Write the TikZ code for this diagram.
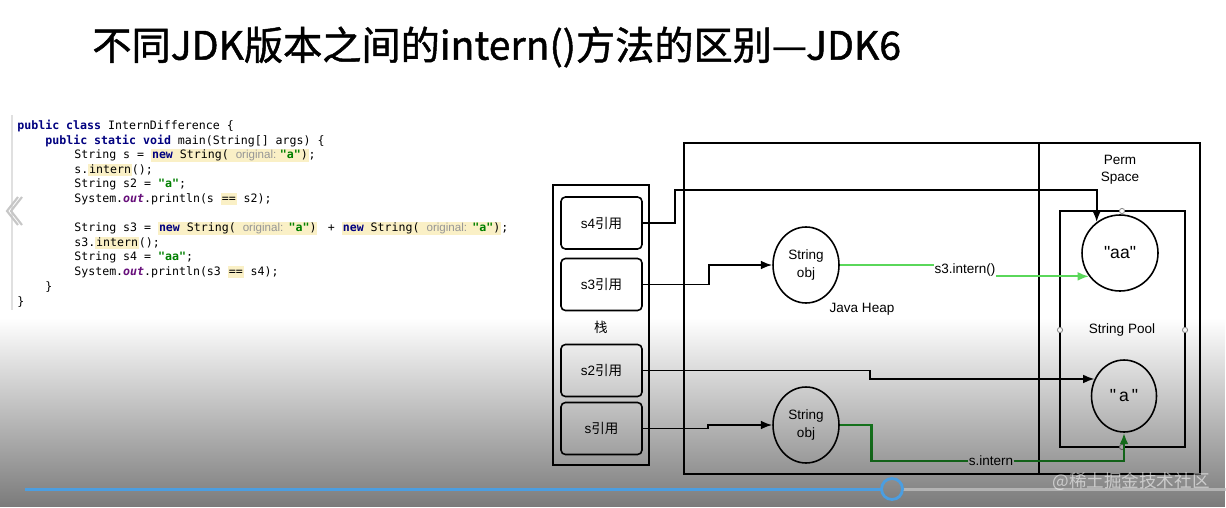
\documentclass[tikz,border=0pt]{standalone}
\usepackage{fontspec}
\setmainfont{Liberation Sans}
\newfontfamily\cjk{Noto Sans CJK SC}
\newfontfamily\cjkb{Noto Sans CJK SC}[FakeBold=1.2]
\newfontfamily\codefont{DejaVu Sans Mono}
\usetikzlibrary{arrows.meta,fadings,shapes.geometric,calc}
\definecolor{kwblue}{RGB}{0,0,128}
\definecolor{strgreen}{RGB}{0,128,0}
\definecolor{hlyel}{RGB}{250,240,198}
\definecolor{hintgray}{RGB}{150,150,150}
\definecolor{outpurple}{RGB}{102,14,122}
\definecolor{lgreen}{RGB}{90,215,90}
\definecolor{dgreen}{RGB}{30,160,40}
\definecolor{barblue}{RGB}{75,158,225}
\newcommand\kwd[1]{{\bfseries\color{kwblue}#1}}
\newcommand\strg[1]{{\bfseries\color{strgreen}#1}}
\newcommand\hnt[1]{{\rmfamily\fontsize{6.6}{8}\selectfont\color{hintgray}#1}}
\newcommand\outv[1]{{\bfseries\itshape\color{outpurple}#1}}
\newcommand\hly[1]{{\setlength{\fboxsep}{0.5pt}\colorbox{hlyel}{\vphantom{(}#1}}}
\newcommand\qq{\textquotedbl}
\tikzfading[name=fadeov, top color=transparent!100, bottom color=transparent!48]
\begin{document}
\begin{tikzpicture}[x=0.02cm,y=-0.02cm,
  code/.style={anchor=base west, inner sep=0, font=\codefont\fontsize{6.6}{8}\selectfont},
  lbl/.style={inner sep=0, font=\fontsize{7.7}{10}\selectfont, align=center},
  refbox/.style={draw, line width=0.9pt, rounded corners=2.5pt, minimum width=1.62cm, minimum height=1.04cm, inner sep=0, font=\fontsize{7.7}{10}\selectfont},
  objnode/.style={draw, line width=0.9pt, ellipse, minimum width=1.32cm, minimum height=1.52cm, inner sep=0, align=center, font=\fontsize{7.7}{10.2}\selectfont},
  frame/.style={draw, line width=0.9pt},
  conn/.style={line width=1pt, -{Latex[length=6.5pt,width=5pt]}},
  lgline/.style={line width=1.1pt, draw=lgreen},
  dgline/.style={line width=1.6pt, draw=dgreen},
]
\useasboundingbox (0,0) rectangle (1226,507);
\fill[white] (0,0) rectangle (1226,507);

% title
\node[anchor=west, inner sep=0, font=\cjkb\fontsize{22.3}{23}\selectfont] (title) at (92,47) {不同JDK版本之间的intern()方法的区别—JDK6};

% editor gutter and chevron
\draw[black!12, line width=0.8pt] (12,115) -- (12,310);
\draw[black!22, line width=1.2pt] (18,197) -- (7,211) -- (18,225);
\draw[black!22, line width=1.2pt] (22,197) -- (11,211) -- (22,225);

% code
\node[code] (c1) at (17,129.5) {\kwd{public class} InternDifference \{};
\node[code] (c2) at (45,144.5) {\kwd{public static void} main(String[] args) \{};
\node[code] (c3) at (74,158.5) {String s = \hly{\kwd{new} String( \hnt{original:}\hspace{2pt}\strg{"a"})};};
\node[code] (c4) at (74,173.5) {s.\hly{intern}();};
\node[code] (c5) at (74,187.5) {String s2 = \strg{"a"};};
\node[code] (c6) at (74,202.5) {System.\outv{out}.println(s \hly{==} s2);};
\node[code] (c7) at (74,231.5) {String s3 = \hly{\kwd{new} String( \hnt{original:}\hspace{3pt}\strg{"a"})}\hspace{2pt} + \hly{\kwd{new} String( \hnt{original:}\hspace{3pt}\strg{"a"})};};
\node[code] (c8) at (74,246.5) {s3.\hly{intern}();};
\node[code] (c9) at (74,260.5) {String s4 = \strg{"aa"};};
\node[code] (c10) at (74,275.5) {System.\outv{out}.println(s3 \hly{==} s4);};
\node[code] (c11) at (45,290.5) {\}};
\node[code] (c12) at (17,305.5) {\}};

% containers
\draw[frame] (553,185) rectangle (649,465);
\draw[frame] (684,143) rectangle (1039,474);
\draw[frame] (1039,143) rectangle (1200,474);
\draw[frame] (1060,211) rectangle (1185,447);
\foreach \p in {(1122,211),(1060,330),(1185,330),(1122,447)}
  \draw[black!45, fill=white, line width=0.5pt] \p circle (2.6);

% stack refs
\node[refbox] (s4) at (601.5,223) {s4\cjk{引用}};
\node[refbox] (s3) at (601.5,284.5) {s3\cjk{引用}};
\node[lbl] (stk) at (601,327) {\cjk{栈}};
\node[refbox] (s2) at (601.5,370.5) {s2\cjk{引用}};
\node[refbox] (s) at (601.5,428.5) {s\cjk{引用}};

% objects
\node[objnode] (o1) at (806,265) {String\\obj};
\node[objnode] (o2) at (806,425) {String\\obj};
\node[draw, line width=0.9pt, circle, minimum size=1.52cm, inner sep=0, font=\fontsize{10}{10}\selectfont] (aa) at (1120,253) {\qq aa\qq};
\node[draw, line width=0.9pt, ellipse, minimum width=1.3cm, minimum height=1.44cm, inner sep=0, font=\fontsize{10}{10}\selectfont] (a) at (1124,396) {\qq\,a\,\qq};

% labels
\node[lbl] (heap) at (862,309) {Java Heap};
\node[lbl, font=\fontsize{7.7}{9.7}\selectfont] (perm) at (1120,170) {Perm\\Space};
\node[lbl] (pool) at (1122,330) {String Pool};
\node[lbl] (l3) at (965,270) {s3.intern()};
\node[lbl] (ls) at (991,461) {s.intern};

% connectors
\draw[conn] (s4.east) -- ++(32,0) -- ++(0,-33) -| (aa.127);
\draw[conn] (s3.east) -- ++(66,0) |- (o1.west);
\draw[conn] (s2.east) -- ++(227,0) |- (a.150);
\draw[conn] (s.east) -- ++(65,0) |- (o2.west);
\draw[lgline] (o1.east) -- (l3.west |- o1.east);
\draw[lgline, -{Latex[length=6.5pt,width=5pt]}] (l3.east |- aa.217) -- (aa.217);
\draw[dgline] (o2.east) -- ++(32,0) |- (ls.west);
\draw[dgline, -{Latex[length=6.5pt,width=5pt]}] (ls.east) -| (a.south);

% video overlay
\fill[black, path fading=fadeov] (0,318) rectangle (1226,507);
\draw[barblue, line width=1.7pt] (25,489) -- (881,489);
\draw[white!75!black, opacity=0.8, line width=1.7pt] (903,489) -- (1226,489);
\draw[barblue, line width=1.6pt] (892,489) circle (10.5);
\node[anchor=east, inner sep=0, text=white, opacity=0.55, font=\cjk\fontsize{10}{10}\selectfont] (wm) at (1210,482) {@稀土掘金技术社区};
\end{tikzpicture}
\end{document}
